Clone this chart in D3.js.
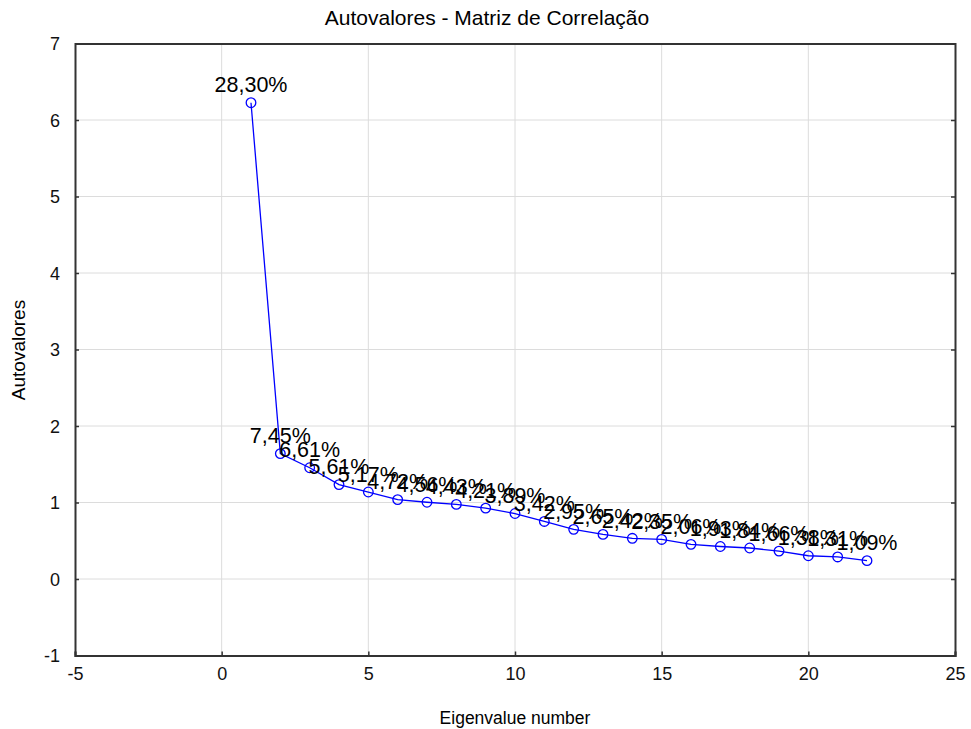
<!DOCTYPE html>
<html><head><meta charset="utf-8">
<script src="https://cdn.jsdelivr.net/npm/d3@7"></script>
<style>body{margin:0;background:#fff}svg{display:block}text{font-family:"Liberation Sans",Arial,sans-serif}</style>
</head><body>
<script>
const eigenNumbers = d3.range(1, 23);
const percents = [28.30,7.45,6.61,5.61,5.17,4.72,4.56,4.43,4.21,3.89,3.42,2.95,2.65,2.42,2.35,2.06,1.93,1.84,1.66,1.38,1.31,1.09];
const eigenvalues = [6.226,1.639,1.454,1.234,1.137,1.038,1.003,0.975,0.926,0.856,0.752,0.649,0.583,0.532,0.517,0.453,0.425,0.405,0.365,0.304,0.288,0.240];
const xTicks = [-5,0,5,10,15,20,25];
const yTicks = [-1,0,1,2,3,4,5,6,7];

const W=971,H=729;
const svg=d3.select("body").append("svg").attr("width",W).attr("height",H);
const x=d3.scaleLinear().domain([-5,25]).range([75,955]);
const y=d3.scaleLinear().domain([-1,7]).range([655.5,43.5]);

// grid
svg.append("g").selectAll("line").data(xTicks.slice(1,-1)).join("line")
 .attr("x1",d=>x(d)).attr("x2",d=>x(d)).attr("y1",y(7)).attr("y2",y(-1))
 .attr("stroke","#dcdcdc").attr("stroke-width",1);
svg.append("g").selectAll("line").data(yTicks.slice(1,-1)).join("line")
 .attr("y1",d=>y(d)).attr("y2",d=>y(d)).attr("x1",x(-5)).attr("x2",x(25))
 .attr("stroke","#dcdcdc").attr("stroke-width",1);

// axes
const fmt=d=>String(d);
const xa=svg.append("g").attr("transform",`translate(0,${y(-1)})`)
 .call(d3.axisBottom(x).tickValues(xTicks).tickSize(-4).tickPadding(12).tickFormat(fmt));
const ya=svg.append("g").attr("transform",`translate(${x(-5)},0)`)
 .call(d3.axisLeft(y).tickValues(yTicks).tickSize(-4).tickPadding(15).tickFormat(fmt));
svg.append("g").attr("transform",`translate(${x(25)},0)`)
 .call(d3.axisRight(y).tickValues(yTicks).tickSize(-4).tickFormat(""));
svg.append("g").attr("transform",`translate(0,${y(7)})`)
 .call(d3.axisTop(x).tickValues(xTicks).tickSize(0).tickFormat(""));
svg.selectAll(".domain").attr("stroke","#333").attr("stroke-width",2);
svg.selectAll(".tick line").attr("stroke","#333").attr("stroke-width",1.5);
svg.selectAll(".tick text").attr("font-size",18).attr("fill","#111").attr("font-family","Liberation Sans, Arial, sans-serif");
ya.selectAll(".tick text").attr("dy","0.35em");
xa.selectAll(".tick text").attr("dy","0.71em");

// line and points
const pts=eigenNumbers.map((n,i)=>({n,v:eigenvalues[i],p:percents[i]}));
svg.append("path").datum(pts)
 .attr("d",d3.line().x(d=>x(d.n)).y(d=>y(d.v)))
 .attr("fill","none").attr("stroke","#0000ff").attr("stroke-width",1.3);
svg.append("g").selectAll("circle").data(pts).join("circle")
 .attr("cx",d=>x(d.n)).attr("cy",d=>y(d.v)).attr("r",4.8)
 .attr("fill","none").attr("stroke","#0000ff").attr("stroke-width",1.3);
svg.append("g").selectAll("text").data(pts).join("text")
 .attr("x",d=>x(d.n)).attr("y",d=>y(d.v)-10.5)
 .attr("text-anchor","middle").attr("font-size",21.5).attr("fill","#000")
 .text(d=>d.p.toFixed(2).replace(".",",")+"%");

// titles
svg.append("text").attr("x",487).attr("y",25).attr("text-anchor","middle")
 .attr("font-size",21).attr("fill","#000").text("Autovalores - Matriz de Correlação");
svg.append("text").attr("x",515).attr("y",724).attr("text-anchor","middle")
 .attr("font-size",17.5).attr("fill","#000").text("Eigenvalue number");
svg.append("text").attr("transform","translate(25,350) rotate(-90)").attr("text-anchor","middle")
 .attr("font-size",19).attr("fill","#000").text("Autovalores");
</script>
</body></html>
